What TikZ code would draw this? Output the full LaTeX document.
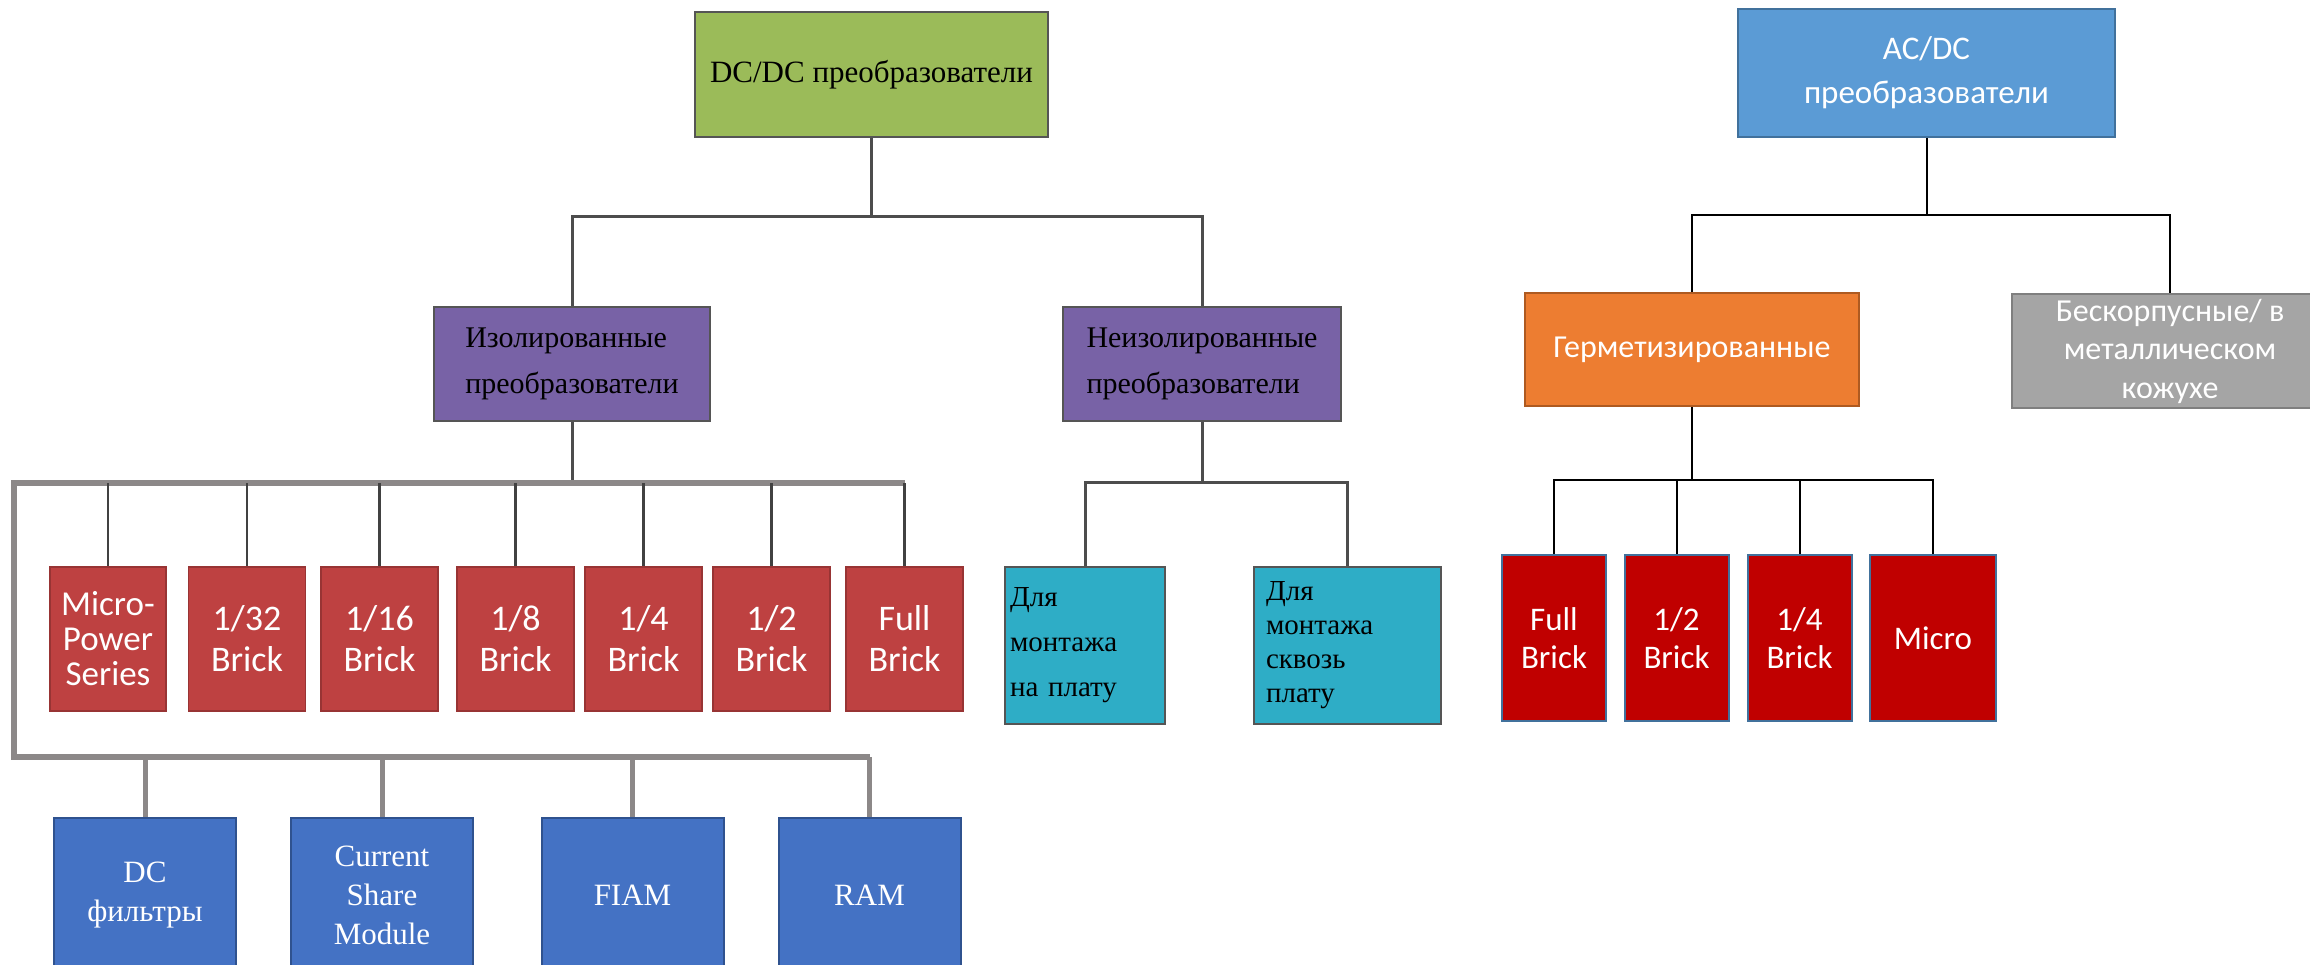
\documentclass[tikz,border=0pt]{standalone}
\usepackage{fontspec}
\setmainfont{Liberation Serif}
\newfontfamily\calibri{Carlito}
\definecolor{leaf}{HTML}{9BBB59}
\definecolor{violet}{HTML}{7862A6}
\definecolor{brick}{HTML}{BE4141}
\definecolor{teal}{HTML}{2EADC6}
\definecolor{royal}{HTML}{4472C4}
\definecolor{royaledge}{HTML}{2F528F}
\definecolor{sky}{HTML}{5B9BD5}
\definecolor{skyedge}{HTML}{41719C}
\definecolor{amber}{HTML}{ED7D31}
\definecolor{amberedge}{HTML}{AE5A21}
\definecolor{stone}{HTML}{A5A5A5}
\definecolor{stoneedge}{HTML}{7F7F7F}
\definecolor{crimson}{HTML}{C00000}
\definecolor{edge}{HTML}{555555}
\definecolor{wire}{HTML}{4D4D4D}
\definecolor{bar}{HTML}{8C8888}

\begin{document}
\begin{tikzpicture}[x=1pt, y=-1pt,
      box/.style={draw=edge, line width=2pt, inner sep=0pt, align=center,
        font=\fontsize{31}{39}\selectfont},
      dcbox/.style={box, fill=leaf, minimum width=353pt, minimum height=125pt},
      isobox/.style={box, fill=violet, align=left, minimum height=114pt,
        font=\fontsize{30}{46}\selectfont},
      brickbox/.style={box, draw=brick!80!black, line width=1.5pt, fill=brick, text=white,
        minimum width=117pt, minimum height=144pt, font=\calibri\fontsize{36}{41}\selectfont},
      extra/.style={box, draw=royaledge, fill=royal, text=white,
        minimum width=182pt, minimum height=154pt},
      mount/.style={box, fill=teal, align=left, minimum height=157pt,
        font=\fontsize{29}{45}\selectfont},
      acbox/.style={box, draw=skyedge, fill=sky, text=white, minimum width=377pt,
        minimum height=128pt, font=\calibri\fontsize{33}{44}\selectfont},
      hermbox/.style={box, draw=amberedge, fill=amber, text=white, minimum width=334pt,
        minimum height=113pt, font=\calibri\fontsize{32}{38}\selectfont},
      openbox/.style={box, draw=stoneedge, fill=stone, text=white, minimum width=316pt,
        minimum height=114pt, font=\calibri\fontsize{32}{38.5}\selectfont},
      rbrick/.style={box, draw=skyedge, fill=crimson, text=white, minimum width=104pt,
        minimum height=166pt, font=\calibri\fontsize{33}{38}\selectfont},
      link/.style={draw=wire, line width=3pt},
      drop/.style={draw=wire!85!black, line width=2.5pt},
      bus/.style={draw=bar, line width=6.5pt},
      tap/.style={draw=bar, line width=5pt},
      rlink/.style={draw=black, line width=2pt}]
    \fill[white] (0,0) rectangle (2310,965);
    \useasboundingbox (0,0) rectangle (2310,965);

    % DC/DC tree
    \node[dcbox] (dcdc) at (871.5,74.5) {DC/DC преобразователи};
    \node[isobox, minimum width=276pt] (iso) at (572,364) {Изолированные\\преобразователи};
    \node[isobox, minimum width=278pt] (noniso) at (1202,364) {Неизолированные\\преобразователи};
    \node[brickbox, minimum width=116pt, font=\calibri\fontsize{35}{35}\selectfont] (mps)
      at (108,639) {Micro-\\Power\\Series};
    \node[brickbox] (b32) at (247,639) {1/32\\Brick};
    \node[brickbox] (b16) at (379.5,639) {1/16\\Brick};
    \node[brickbox] (b8) at (515.5,639) {1/8\\Brick};
    \node[brickbox] (b4) at (643.5,639) {1/4\\Brick};
    \node[brickbox] (b2) at (771.5,639) {1/2\\Brick};
    \node[brickbox] (bfull) at (904.5,639) {Full\\Brick};
    \node[extra] (dcf) at (145,895) {DC\\фильтры};
    \node[extra] (csm) at (382,895) {Current\\Share\\Module};
    \node[extra] (fiam) at (632.5,895) {FIAM};
    \node[extra] (ram) at (869.5,895) {RAM};
    \node[mount, minimum width=160pt, text width=150pt] (board) at (1085,645.5)
      {Для\\монтажа\\на плату};
    \node[mount, minimum width=187pt, text width=163pt, font=\fontsize{29}{34}\selectfont]
      (thru) at (1347.5,645.5) {Для\\монтажа\\сквозь\\плату};

    \coordinate (dcjoin) at (871.5,217);
    \coordinate (isojoin) at (572,483);
    \coordinate (busL) at (14,483);
    \coordinate (busB) at (14,757);
    \coordinate (nijoin) at (1202,482);
    \draw[link] (dcdc) -- (dcjoin);
    \draw[link] (iso.north) |- (dcjoin) -| (noniso.north);
    \draw[link] (iso) -- (isojoin);
    \draw[bus] (bfull.north |- busL) -- (busL) -- (busB) -- (ram.north |- busB);
    \draw[drop] (mps.north |- busL) -- (mps.north);
    \draw[drop] (b32.north |- busL) -- (b32.north);
    \draw[drop] (b16.north |- busL) -- (b16.north);
    \draw[drop] (b8.north |- busL) -- (b8.north);
    \draw[drop] (b4.north |- busL) -- (b4.north);
    \draw[drop] (b2.north |- busL) -- (b2.north);
    \draw[drop] (bfull.north |- busL) -- (bfull.north);
    \draw[tap] (dcf.north |- busB) -- (dcf.north);
    \draw[tap] (csm.north |- busB) -- (csm.north);
    \draw[tap] (fiam.north |- busB) -- (fiam.north);
    \draw[tap] (ram.north |- busB) -- (ram.north);
    \draw[link] (noniso) -- (nijoin);
    \draw[link] (board.north) |- (nijoin) -| (thru.north);

    % AC/DC tree
    \node[acbox] (acdc) at (1926.5,73) {AC/DC\\преобразователи};
    \node[hermbox] (herm) at (1692,349.5) {Герметизированные};
    \node[openbox] (open) at (2170,351) {Бескорпусные/ в\\металлическом\\кожухе};
    \node[rbrick] (rfull) at (1554,638) {Full\\Brick};
    \node[rbrick] (rhalf) at (1676.5,638) {1/2\\Brick};
    \node[rbrick] (rquart) at (1799.5,638) {1/4\\Brick};
    \node[rbrick, minimum width=126pt] (rmicro) at (1933,638) {Micro};

    \coordinate (acjoin) at (1926.5,215);
    \coordinate (hjoin) at (1692,480);
    \draw[rlink] (acdc) -- (acjoin);
    \draw[rlink] (herm.north) |- (acjoin) -| (open.north);
    \draw[rlink] (herm) -- (hjoin);
    \draw[rlink] (rfull.north) |- (hjoin) -| (rmicro.north);
    \draw[rlink] (rhalf.north |- hjoin) -- (rhalf.north);
    \draw[rlink] (rquart.north |- hjoin) -- (rquart.north);
  \end{tikzpicture}
\end{document}
